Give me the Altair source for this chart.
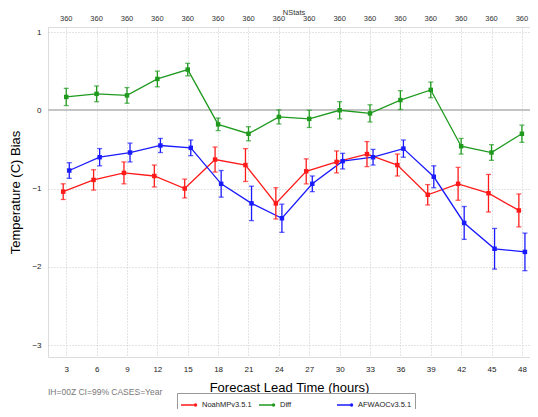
import altair as alt
import pandas as pd

# ---- data ----
hours = [3, 6, 9, 12, 15, 18, 21, 24, 27, 30, 33, 36, 39, 42, 45, 48]
nstats = [360] * 16
series = ["NoahMPv3.5.1", "Diff", "AFWAOCv3.5.1"]
colors = ["#ff1a1a", "#1f9a1f", "#1a1aff"]
offsets = [-0.3, 0.0, 0.3]

noah_mean = [-1.04, -0.89, -0.80, -0.84, -1.00, -0.63, -0.70, -1.19, -0.78, -0.66, -0.56, -0.70, -1.08, -0.94, -1.06, -1.28]
noah_err = [0.10, 0.13, 0.14, 0.14, 0.12, 0.16, 0.21, 0.20, 0.16, 0.14, 0.16, 0.14, 0.13, 0.21, 0.24, 0.21]
diff_mean = [0.17, 0.21, 0.19, 0.40, 0.52, -0.18, -0.30, -0.085, -0.11, 0.0, -0.04, 0.13, 0.26, -0.46, -0.54, -0.30]
diff_err = [0.11, 0.10, 0.10, 0.10, 0.08, 0.08, 0.09, 0.09, 0.11, 0.11, 0.11, 0.12, 0.10, 0.10, 0.10, 0.11]
afwa_mean = [-0.77, -0.60, -0.54, -0.45, -0.48, -0.94, -1.19, -1.38, -0.94, -0.65, -0.60, -0.49, -0.85, -1.44, -1.77, -1.81]
afwa_err = [0.10, 0.11, 0.12, 0.09, 0.10, 0.17, 0.22, 0.18, 0.10, 0.10, 0.10, 0.11, 0.14, 0.21, 0.26, 0.24]

top_title = "NStats"
footnote = "IH=00Z CI=99% CASES=Year"

means = [noah_mean, diff_mean, afwa_mean]
errs = [noah_err, diff_err, afwa_err]
rows = []
for s, off, m, e in zip(series, offsets, means, errs):
    for h, v, d in zip(hours, m, e):
        rows.append({"series": s, "hour": h, "xpos": h + off, "mean": v,
                     "lo": v - d, "hi": v + d})
df = pd.DataFrame(rows)
top_df = pd.DataFrame({"hour": hours, "n": nstats})

FONT = "Liberation Sans"
W, H = 482, 330
xscale = alt.Scale(domain=[1.2, 48.8], nice=False, zero=False)
yscale = alt.Scale(domain=[-3.153, 1.064], nice=False, zero=False)
cscale = alt.Scale(domain=series, range=colors)

xaxis = alt.Axis(values=hours, title="Forecast Lead Time (hours)", ticks=False,
                 domain=False, labelFontSize=8, labelPadding=8, labelColor="#222",
                 labelOverlap=False, labelFlush=False,
                 titleFontSize=13, titleFontWeight="normal", titlePadding=8,
                 titleColor="#000", grid=True, gridDash=[1, 2], gridColor="#c8c8c8")
yaxis = alt.Axis(values=[-3, -2, -1, 0, 1], title="Temperature (C) Bias", ticks=False,
                 domain=False, labelFontSize=8, labelPadding=7, labelColor="#222",
                 labelOverlap=False,
                 titleFontSize=13, titleFontWeight="normal", titlePadding=9,
                 titleColor="#000", grid=True, gridDash=[1, 2], gridColor="#c8c8c8",
                 format="d")

X = alt.X("xpos:Q", scale=xscale, axis=xaxis)
C = alt.Color("series:N", scale=cscale, legend=None)

base = alt.Chart(df)

zero = alt.Chart(top_df).mark_rule(color="#c4c4c4", strokeWidth=1.2).encode(
    y=alt.datum(0, scale=yscale, axis=yaxis)
)

lines = base.mark_line(strokeWidth=1.3).encode(
    x=X,
    y=alt.Y("mean:Q", scale=yscale, axis=yaxis),
    color=alt.Color("series:N", scale=cscale, sort=series,
                    legend=alt.Legend(
                        title=None, orient="none", legendX=129, legendY=366,
                        direction="horizontal", columns=3, gridAlign="all",
                        columnPadding=0, padding=3, strokeColor="#999",
                        fillColor="white", labelFontSize=7.5, labelFont=FONT,
                        labelColor="#222",
                        symbolType="M-1,0L1,0M0.7,0A0.12,0.12 0 1 1 0.94,0A0.12,0.12 0 1 1 0.7,0",
                        symbolSize=256, symbolStrokeWidth=1.5, labelOffset=4)),
    detail="series:N",
)

bars = base.mark_rule(strokeWidth=1.3).encode(
    x=X, y=alt.Y("lo:Q", scale=yscale, axis=yaxis), y2="hi:Q", color=C,
)
caps_lo = base.mark_tick(orient="horizontal", size=5, thickness=1.3).encode(
    x=X, y=alt.Y("lo:Q", scale=yscale, axis=yaxis), color=C,
)
caps_hi = base.mark_tick(orient="horizontal", size=5, thickness=1.3).encode(
    x=X, y=alt.Y("hi:Q", scale=yscale, axis=yaxis), color=C,
)
points = base.mark_square(size=20, opacity=1).encode(
    x=X, y=alt.Y("mean:Q", scale=yscale, axis=yaxis), color=C,
)

top_labels = alt.Chart(top_df).mark_text(fontSize=7.5, font=FONT, color="#333",
                                         baseline="middle").encode(
    x=alt.X("hour:Q", scale=xscale, axis=xaxis),
    y=alt.value(-8),
    text="n:Q",
)

top_name = alt.Chart(pd.DataFrame({"t": [top_title]})).mark_text(
    fontSize=7.5, font=FONT, color="#333", baseline="middle", align="center"
).encode(x=alt.value(246), y=alt.value(-14.5), text="t:N")

note = alt.Chart(pd.DataFrame({"t": [footnote]})).mark_text(
    fontSize=8.5, font=FONT, color="#777", align="left", baseline="middle"
).encode(x=alt.value(0), y=alt.value(365), text="t:N")

chart = alt.layer(zero, lines, bars, caps_lo, caps_hi, points, top_labels, top_name, note).properties(
    width=W, height=H,
    autosize=alt.AutoSizeParams(type="none"),
    padding={"left": 40, "top": 19, "right": 0, "bottom": 52},
).configure_view(stroke="#bbbbbb", strokeWidth=1.2).configure(
    font=FONT, background="white"
).configure_axis(labelFont=FONT, titleFont=FONT)

chart.save("out.html", embed_options={"renderer": "svg", "actions": False})
